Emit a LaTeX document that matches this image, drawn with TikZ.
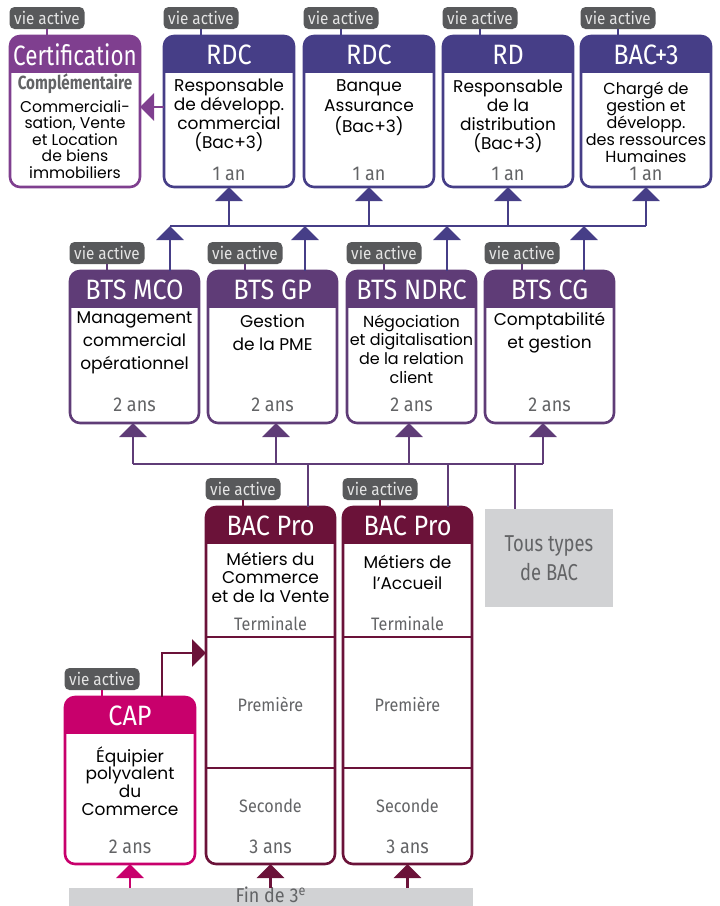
\documentclass[tikz,border=0pt]{standalone}
\usepackage{fontspec}
\setmainfont{Poppins}
\newfontfamily\headfont[FakeStretch=0.9]{Fira Sans}
\newfontfamily\narrowfont[FakeStretch=0.8]{Fira Sans}
\usetikzlibrary{arrows.meta,positioning,calc,fit}
\definecolor{bleurdc}{HTML}{463E87}
\definecolor{violetcert}{HTML}{7F3F8F}
\definecolor{violetbts}{HTML}{5F3C77}
\definecolor{bordeaux}{HTML}{6B1239}
\definecolor{rosecap}{HTML}{C8006C}
\definecolor{gristag}{HTML}{58595B}
\definecolor{gristxt}{HTML}{636466}
\definecolor{grisclair}{HTML}{D1D2D4}
\newcommand{\formation}[7]{% nom, gauche, haut, largeur, hauteur, couleur, titre
  \begin{scope}
    \clip[rounded corners=5pt] (#2,#3) rectangle ++(#4,#5);
    \fill[white] (#2,#3) rectangle ++(#4,#5);
    \fill[#6] (#2,#3) rectangle ++(#4,37);
  \end{scope}
  \node[box=#6, fit={(#2,#3) (#2+#4,#3+#5)}] (#1) {};
  \node[title] (#1-t) at (#2+#4/2,#3+18.5) {#7};
  \node[tag] (#1-v) at (#2+37,#3-18) {vie active};
  \draw[#6, line width=1pt] (#1-v) -- (#1-v |- #1.north);
}

\begin{document}
\begin{tikzpicture}[x=0.5pt, y=-0.5pt,
  box/.style={draw=#1, line width=1.3pt, rounded corners=5pt, inner sep=0pt, outer sep=0pt},
  title/.style={text=white, inner sep=0pt, font=\headfont\fontsize{14}{14}\selectfont},
  tag/.style={fill=gristag, text=white!90!black, rounded corners=2.5pt, minimum width=37.5pt,
    minimum height=11pt, inner sep=0pt, font=\headfont\fontsize{8.5}{8.5}\selectfont},
  grey/.style={text=gristxt, inner sep=0pt, font=\headfont\fontsize{10}{10}\selectfont},
  small grey/.style={grey, font=\headfont\fontsize{9}{9}\selectfont},
  body/.style={align=center, inner sep=0pt, font=\fontsize{8.5}{9.5}\selectfont},
  link/.style={line width=1.3pt},
  arr/.style={link, -{Triangle[width=13.5pt, length=7pt]}}]
\useasboundingbox (0,0) rectangle (719,906);

% vie active / poursuites apres BTS
\formation{certif}{10}{36}{130}{151}{violetcert}{\narrowfont Certification}
\node[grey, font=\narrowfont\bfseries\fontsize{9.5}{9.5}\selectfont] (certif-c) at (75,84) {Complémentaire};
\node[body, font=\fontsize{7.8}{8.2}\selectfont] (certif-d) at (75,139.5) {Commerciali-\\sation, Vente\\et Location\\de biens\\immobiliers};

\formation{rdc1}{164}{36}{130}{151}{bleurdc}{RDC}
\node[body] (rdc1-d) at (229,115.5) {Responsable\\de développ.\\commercial\\(Bac+3)};
\node[grey] (rdc1-a) at (229,174) {1 an};

\formation{rdc2}{304}{36}{130}{151}{bleurdc}{RDC}
\node[body, font=\fontsize{8.5}{10.25}\selectfont] (rdc2-d) at (369,107.5) {Banque\\Assurance\\(Bac+3)};
\node[grey] (rdc2-a) at (369,174) {1 an};

\formation{rd}{443}{36}{130}{151}{bleurdc}{RD}
\node[body] (rd-d) at (508,116) {Responsable\\de la\\distribution\\(Bac+3)};
\node[grey] (rd-a) at (508,174) {1 an};

\formation{bac3}{581}{36}{130}{151}{bleurdc}{BAC+3}
\node[body, font=\fontsize{8}{8.5}\selectfont] (bac3-d) at (646,122) {Chargé de\\gestion et\\développ.\\des ressources\\Humaines};
\node[grey] (bac3-a) at (646,174) {1 an};

% BTS
\formation{mco}{70}{271}{129}{152}{violetbts}{BTS MCO}
\node[body, font=\fontsize{8.5}{11.5}\selectfont] (mco-d) at (134.5,343) {Management\\commercial\\opérationnel};
\node[grey] (mco-a) at (134.5,405) {2 ans};

\formation{gp}{208}{271}{129}{152}{violetbts}{BTS GP}
\node[body, font=\fontsize{8.5}{11.5}\selectfont] (gp-d) at (272.5,332.5) {Gestion\\de la PME};
\node[grey] (gp-a) at (272.5,405) {2 ans};

\formation{ndrc}{347}{271}{129}{152}{violetbts}{BTS NDRC}
\node[body, font=\fontsize{8}{9.3}\selectfont] (ndrc-d) at (411.5,349) {Négociation\\et digitalisation\\de la relation\\client};
\node[grey] (ndrc-a) at (411.5,405) {2 ans};

\formation{cg}{485}{271}{129}{152}{violetbts}{BTS CG}
\node[body, font=\fontsize{8.5}{11.5}\selectfont] (cg-d) at (549.5,332.5) {Comptabilité\\et gestion};
\node[grey] (cg-a) at (549.5,405) {2 ans};

% BAC Pro et CAP
\formation{pro1}{206}{507}{129}{357}{bordeaux}{BAC Pro}
\node[body, font=\fontsize{8.5}{9.25}\selectfont] (pro1-d) at (270.5,577) {Métiers du\\Commerce\\et de la Vente};
\formation{pro2}{343}{507}{129}{357}{bordeaux}{BAC Pro}
\node[body, font=\fontsize{8.5}{10.5}\selectfont] (pro2-d) at (407.5,572.5) {Métiers de\\l’Accueil};
\foreach \n/\x in {pro1/270.5, pro2/407.5} {
  \draw[bordeaux, line width=1pt] (\x-64.5,637) -- (\x+64.5,637) (\x-64.5,768) -- (\x+64.5,768);
  \node[small grey] (\n-ter) at (\x,624) {Terminale};
  \node[small grey] (\n-pre) at (\x,704) {Première};
  \node[small grey] (\n-sec) at (\x,806) {Seconde};
  \node[grey] (\n-a) at (\x,847) {3 ans};
}
\node[fill=grisclair, inner sep=0pt, fit={(485,509) (613,607)}] (tous) {};
\node[grey, align=center, font=\narrowfont\fontsize{11.5}{14.5}\selectfont] (tous-t) at (549,558) {Tous types\\de BAC};

\formation{cap}{65}{697}{130}{167}{rosecap}{CAP}
\node[body, font=\fontsize{8.5}{8.85}\selectfont] (cap-d) at (130,781) {Équipier\\polyvalent\\du\\Commerce};
\node[grey] (cap-a) at (130,847) {2 ans};

\node[fill=grisclair, inner sep=0pt, fit={(69,888) (473,920)}] (fin) {};
\node[grey, font=\headfont\fontsize{10}{10}\selectfont] (fin-t) at (271,895) {Fin de 3\textsuperscript{e}};

% liaisons
\coordinate (bt1) at (170,226);
\coordinate (bt2) at (305,226);
\coordinate (bt3) at (447,226);
\coordinate (bt4) at (584,226);
\draw[bleurdc, link] (bt1) -- (bac3.south |- bt1);
\foreach \n in {rdc1, rdc2, rd, bac3}
  \draw[bleurdc, arr] (\n.south |- bt1) -- (\n.south);
\foreach \b/\n in {bt1/mco, bt2/gp, bt3/ndrc, bt4/cg}
  \draw[bleurdc, arr] (\b |- \n.north) -- (\b);
\draw[violetcert, arr] ([yshift=2.25pt]rdc1.west) -- ([yshift=2.25pt]certif.east);

\coordinate (bb1) at (133,464);
\coordinate (bb2) at (276,464);
\coordinate (bb3) at (409,464);
\coordinate (bb4) at (543,464);
\draw[violetbts, link] (bb1) -- (bb4);
\foreach \b/\n in {bb1/mco, bb2/gp, bb3/ndrc, bb4/cg}
  \draw[violetbts, arr] (\b) -- (\b |- \n.south);
\coordinate (bd1) at (308,464);
\coordinate (bd2) at (448,464);
\coordinate (bd3) at (515,464);
\foreach \b/\n in {bd1/pro1, bd2/pro2, bd3/tous}
  \draw[violetbts, link] (\b) -- (\b |- \n.north);

\coordinate (coude) at (162,653);
\draw[bordeaux, arr] (coude |- cap.north) -- (coude) -- (coude -| pro1.west);
\draw[rosecap, arr] (cap.south |- fin.north) -- (cap.south);
\draw[bordeaux, arr] (pro1.south |- fin.north) -- (pro1.south);
\draw[bordeaux, arr] (pro2.south |- fin.north) -- (pro2.south);
\end{tikzpicture}
\end{document}
